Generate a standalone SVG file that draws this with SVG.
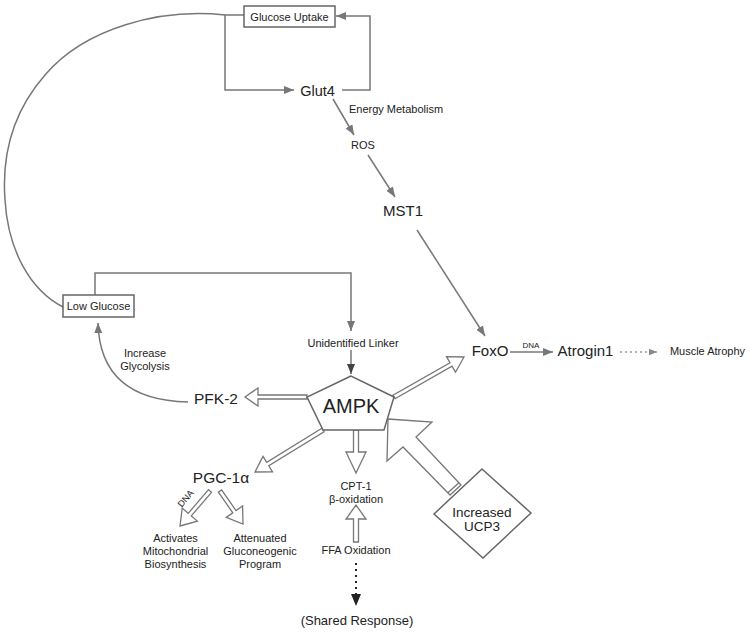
<svg xmlns="http://www.w3.org/2000/svg" width="750" height="634" viewBox="0 0 750 634">
<defs>
<style>
.t{font-family:"Liberation Sans",Arial,sans-serif;fill:#222;text-anchor:middle}
.s11{font-size:11px}
.ln{fill:none;stroke:#777;stroke-width:1.5}
.box{fill:#fff;stroke:#666;stroke-width:1.5}
.ho{fill:#fff;stroke:#777;stroke-width:1.3;stroke-linejoin:miter}
</style>
<marker id="ah" viewBox="0 0 10 8" refX="10" refY="4" markerWidth="10" markerHeight="8" markerUnits="userSpaceOnUse" orient="auto"><path d="M0,0 L10,4 L0,8 z" fill="#777"/></marker>
<marker id="ahd" viewBox="0 0 10 8" refX="10" refY="4" markerWidth="10" markerHeight="8" markerUnits="userSpaceOnUse" orient="auto"><path d="M0,0 L10,4 L0,8 z" fill="#444"/></marker>
<marker id="ahs" viewBox="0 0 10 8" refX="10" refY="4" markerWidth="8" markerHeight="7" markerUnits="userSpaceOnUse" orient="auto"><path d="M0,0 L10,4 L0,8 z" fill="#888"/></marker>
</defs>
<rect width="750" height="634" fill="#fff"/>
<g id="connectors">
<path class="ln" d="M225 15 C160 8 85 28 45 75 C10 115 2 160 5 200 C8 250 30 290 63 307"/>
<path class="ln" d="M244 15 L225 15 L225 90 L294 90" marker-end="url(#ah)"/>
<path class="ln" d="M342 90 L370 90 L370 16 L336 16" marker-end="url(#ah)"/>
<path class="ln" d="M333 99 L354 135" marker-end="url(#ah)"/>
<path class="ln" d="M368 155 L395 197" marker-end="url(#ah)"/>
<path class="ln" d="M417 230 L485 336" marker-end="url(#ah)"/>
<path class="ln" d="M95 295 L95 273 L351 273 L351 331" marker-end="url(#ah)"/>
<path class="ln" d="M351 350 L351 374" stroke="#444" fill="none" stroke-width="1.5" marker-end="url(#ahd)"/>
<path class="ln" d="M188 402 Q100 400 98 323" marker-end="url(#ah)"/>
<path class="ln" d="M510 352 L553 352" marker-end="url(#ah)"/>
<path d="M620 352 L657 352" fill="none" stroke="#999" stroke-width="1.5" stroke-dasharray="2 3" marker-end="url(#ahs)"/>
<path d="M356 563 L356 594" fill="none" stroke="#222" stroke-width="2" stroke-dasharray="2 4"/>
<polygon points="351,594 361,594 356,606" fill="#222"/>
<polygon class="ho" points="307,395 258,395 258,388 245,397 258,406 258,399 307,399"/>
<polygon class="ho" points="321.9,428.3 266.7,462.4 263.0,456.4 255,472 272.5,471.8 268.8,465.8 324.1,431.7"/>
<polygon class="ho" points="395.0,398.7 452.0,366.2 455.5,372.2 464,357 446.5,356.6 450.0,362.7 393.0,395.3"/>
<polygon class="ho" points="353.5,430 353.5,452 346,452 356,473 366,452 358.5,452 358.5,430"/>
<polygon class="ho" points="353.5,542 353.5,519 346,519 356,505 366,519 358.5,519 358.5,542"/>
<polygon class="ho" points="208.5,489.7 188.2,513.3 182.2,508.1 180,526 197.4,521.1 191.3,515.9 211.5,492.3"/>
<polygon class="ho" points="218.4,492.1 232.8,512.8 226.2,517.4 243,524 242.6,506.0 236.0,510.6 221.6,489.9"/>
<polygon class="ho" stroke-width="1.5" points="388,419 432,422 416,437 461,485 450,495 403,447 387,461"/>
<path d="M458.9,482.8 L447.9,492.8" stroke="#777" stroke-width="1.3" fill="none"/>
</g>
<g id="glucose-uptake"><rect class="box" x="244" y="6" width="91" height="21"/><text class="t s11" x="289.5" y="21">Glucose Uptake</text></g>
<g id="glut4"><text class="t" x="317.5" y="96" font-size="14.5">Glut4</text></g>
<g id="energy-metabolism"><text class="t s11" x="396" y="113">Energy Metabolism</text></g>
<g id="ros"><text class="t s11" x="363" y="149">ROS</text></g>
<g id="mst1"><text class="t" x="403" y="216" font-size="15">MST1</text></g>
<g id="low-glucose"><rect class="box" x="63" y="295" width="71" height="22"/><text class="t s11" x="98.5" y="310">Low Glucose</text></g>
<g id="unidentified-linker"><text class="t s11" x="353" y="347">Unidentified Linker</text></g>
<g id="increase-glycolysis"><text class="t s11" x="145" y="357">Increase</text><text class="t s11" x="145" y="370">Glycolysis</text></g>
<g id="ampk"><polygon class="box" points="351,376 307,397 323,430 384,430 394,397"/><text class="t" x="351" y="413" font-size="20">AMPK</text></g>
<g id="pfk2"><text class="t" x="216" y="404" font-size="15.5">PFK-2</text></g>
<g id="pgc1a"><text class="t" x="221" y="483" font-size="15.5">PGC-1α</text><text class="t" x="0" y="0" font-size="9" transform="translate(188,500.5) rotate(-49)">DNA</text></g>
<g id="mito"><text class="t s11" x="175.5" y="542">Activates</text><text class="t s11" x="175.5" y="555">Mitochondrial</text><text class="t s11" x="175.5" y="568">Biosynthesis</text></g>
<g id="glucon"><text class="t s11" x="260" y="542">Attenuated</text><text class="t s11" x="260" y="555">Gluconeogenic</text><text class="t s11" x="260" y="568">Program</text></g>
<g id="cpt1"><text class="t s11" x="356" y="490">CPT-1</text><text class="t s11" x="356" y="503">β-oxidation</text></g>
<g id="ffa"><text class="t s11" x="356" y="554">FFA Oxidation</text></g>
<g id="shared"><text class="t" x="357" y="625" font-size="13">(Shared Response)</text></g>
<g id="ucp3"><polygon class="box" points="482,469 531,513 483,558 434,514"/><text class="t" x="482" y="517" font-size="13.5">Increased</text><text class="t" x="482" y="531" font-size="13.5">UCP3</text></g>
<g id="foxo"><text class="t" x="490" y="356" font-size="15">FoxO</text><text class="t" x="531" y="348" font-size="8">DNA</text></g>
<g id="atrogin1"><text class="t" x="585.5" y="356" font-size="15">Atrogin1</text></g>
<g id="muscle-atrophy"><text class="t s11" x="707.5" y="355">Muscle Atrophy</text></g>
</svg>
